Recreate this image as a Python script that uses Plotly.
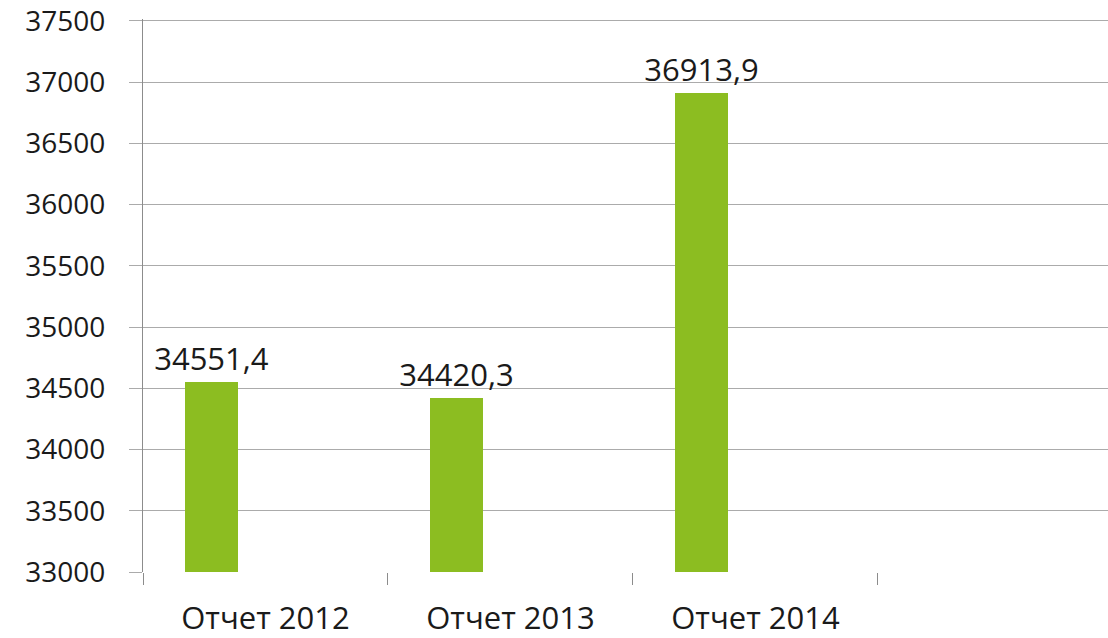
import plotly.graph_objects as go

categories = ["Отчет 2012", "Отчет 2013", "Отчет 2014", ""]
values = [34551.4, 34420.3, 36913.9]
y_ticks = [33000, 33500, 34000, 34500, 35000, 35500, 36000, 36500, 37000, 37500]

FONT = "Open Sans"
TXT = "#1a1a1a"
GRID = "#ababab"

xpos = list(range(len(values)))
fig = go.Figure()
fig.add_trace(go.Bar(
    x=xpos, y=values,
    width=0.216, offset=-0.3286,
    marker=dict(color="#8cbd21", line=dict(width=0)),
    text=values, texttemplate="%{y:.1f}", textposition="outside",
    textfont=dict(family=FONT, size=31, color=TXT),
    constraintext="none",
    cliponaxis=False,
))

fig.update_layout(
    width=1108, height=638,
    margin=dict(l=143, r=0, t=19, b=66, autoexpand=False),
    paper_bgcolor="white", plot_bgcolor="white",
    separators=", ",
    showlegend=False,
    bargap=0,
    xaxis=dict(
        range=[-0.5, 3.439],
        tickvals=list(range(len(categories))),
        ticktext=categories,
        ticks="", showgrid=False, zeroline=False,
        showline=False, automargin=False,
        ticklabelstandoff=25,
        tickfont=dict(family=FONT, size=31, color=TXT),
        minor=dict(tickvals=[-0.5, 0.5, 1.5, 2.5], ticks="outside", ticklen=12,
                   tickcolor="#8c8c8c", tickwidth=1, showgrid=False),
    ),
    yaxis=dict(
        range=[33000, 37516],
        tickvals=y_ticks, tickformat="d",
        showgrid=True, gridcolor=GRID, gridwidth=1,
        ticks="outside", ticklen=13, tickcolor=GRID,
        showline=True, linecolor="#8c8c8c", linewidth=1,
        zeroline=False, automargin=False,
        ticklabelstandoff=18,
        ticklabeloverflow="allow",
        tickfont=dict(family=FONT, size=28, color=TXT),
    ),
)

fig.write_html("out.html", config={"displayModeBar": False},
               post_script="document.body.style.margin='0';")
